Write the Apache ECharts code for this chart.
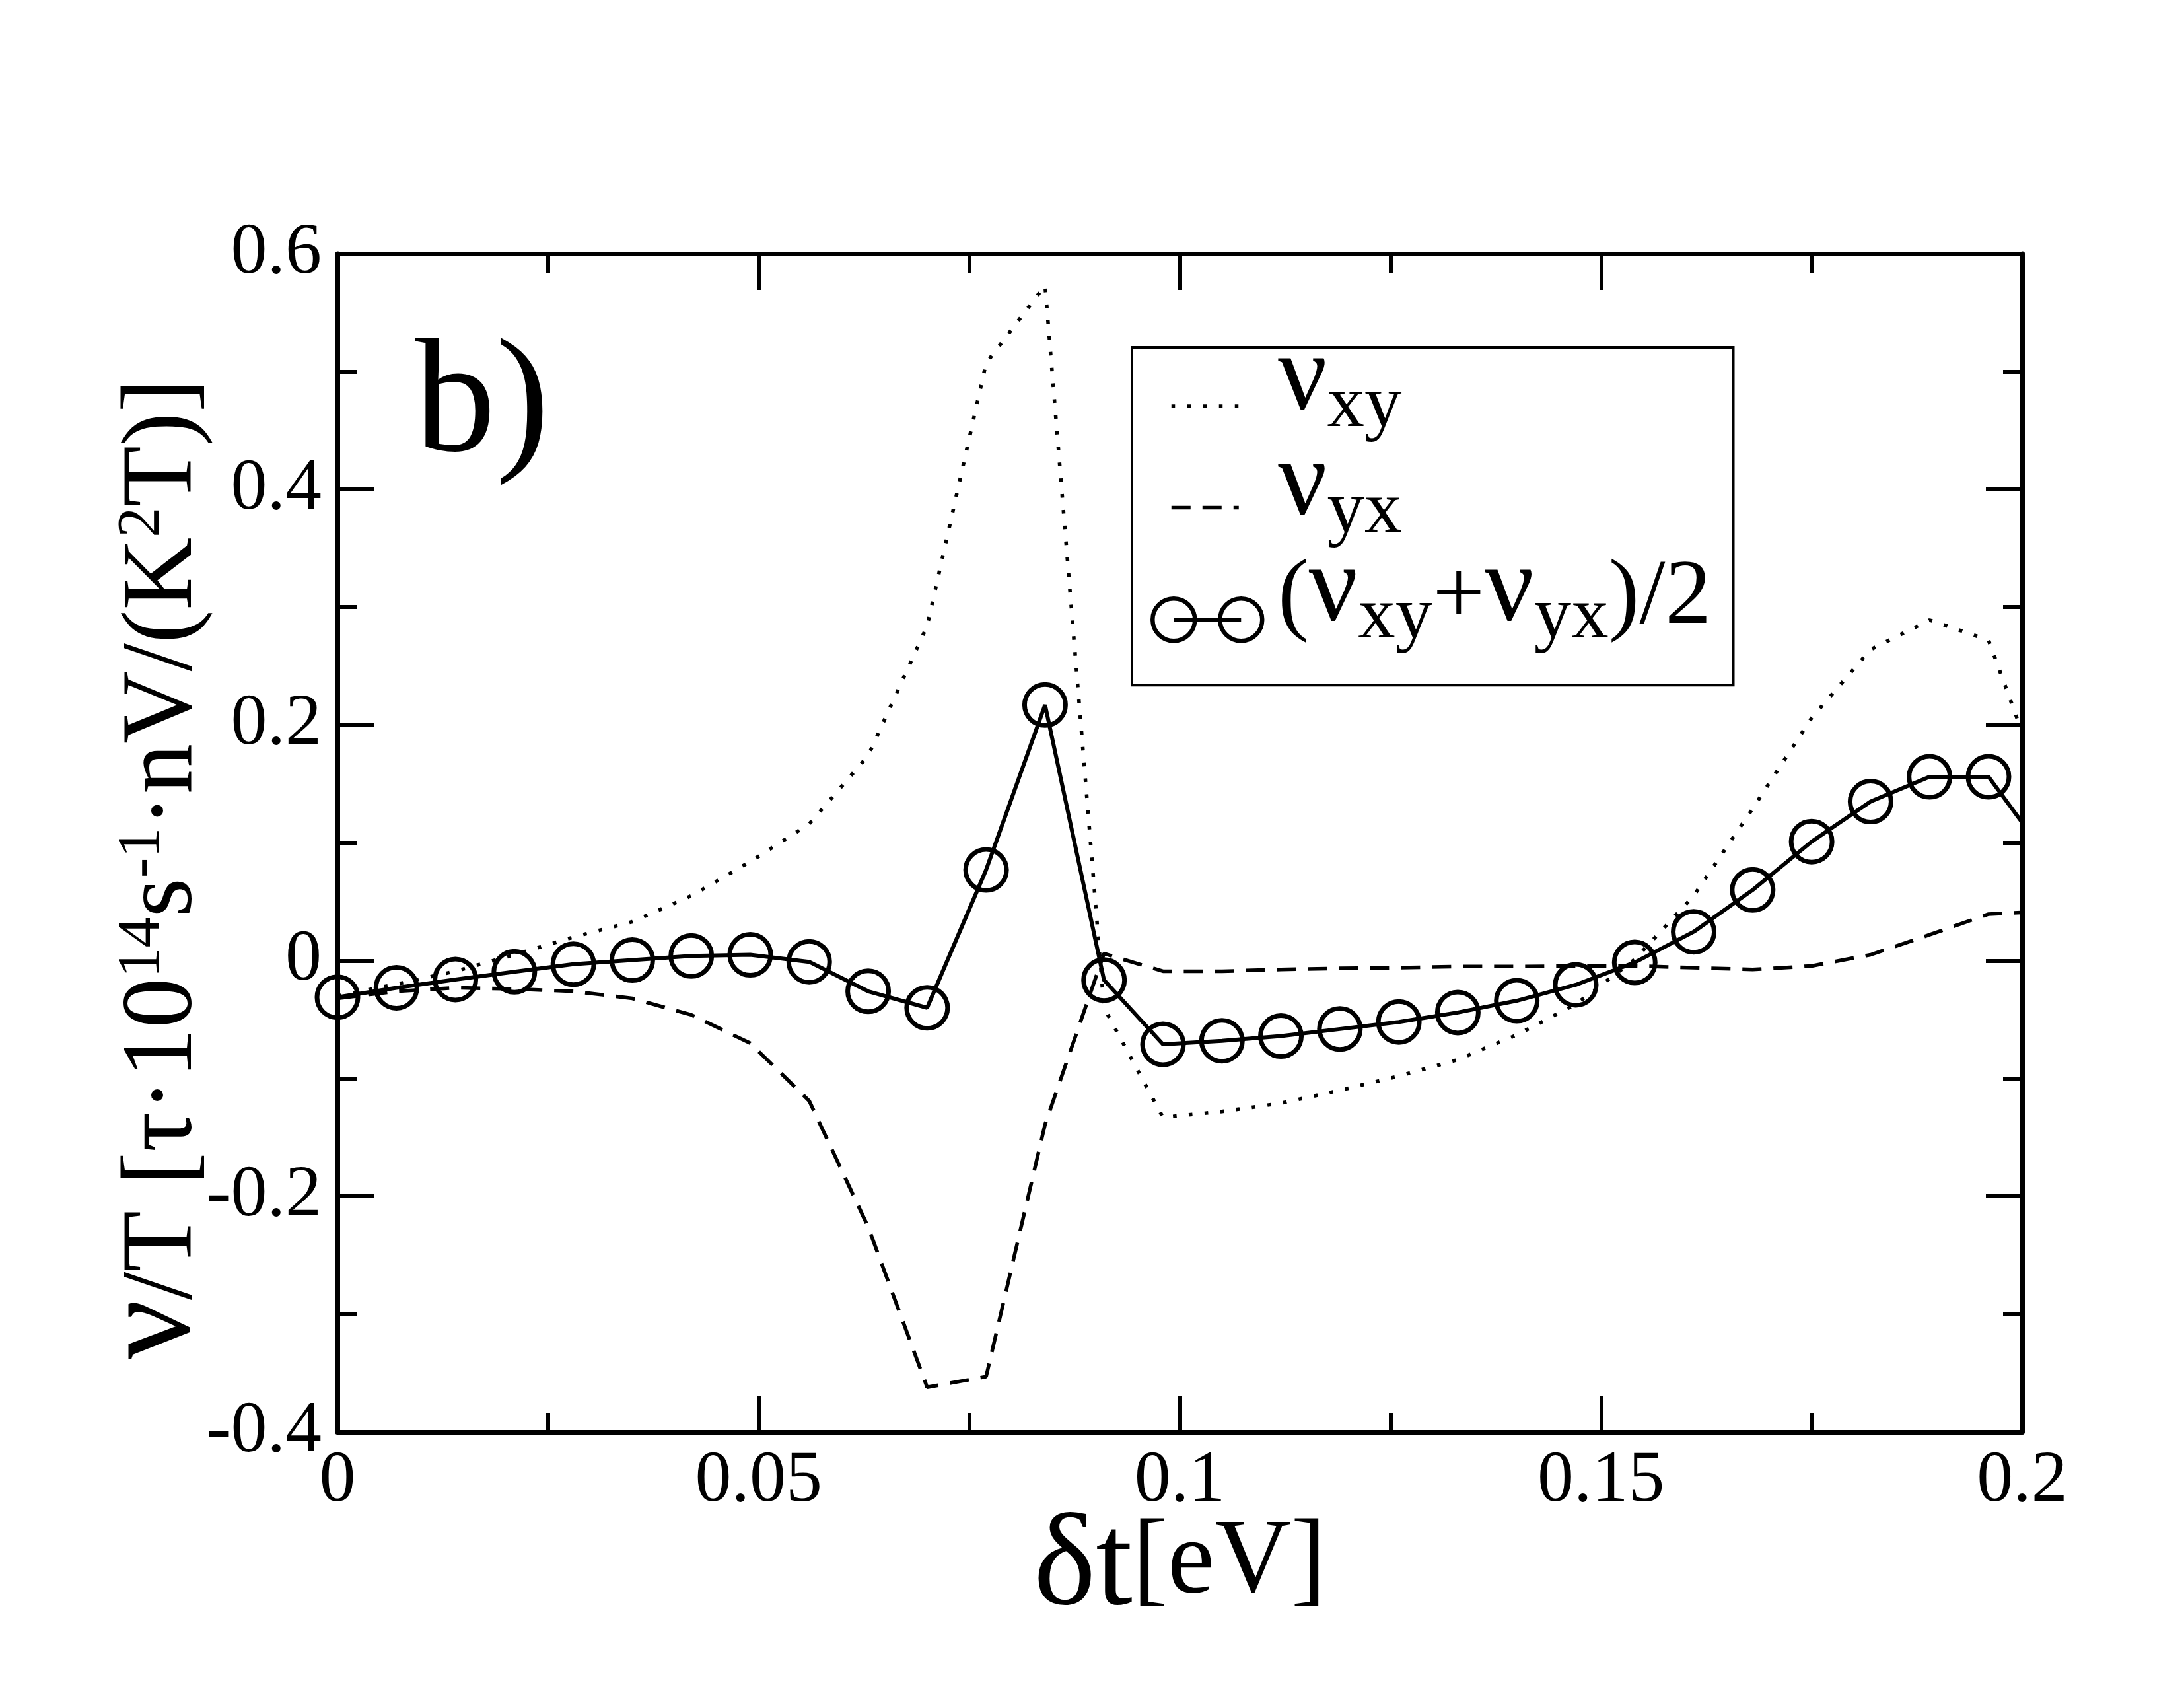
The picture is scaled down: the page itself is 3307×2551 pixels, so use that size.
<!DOCTYPE html>
<html>
<head>
<meta charset="utf-8">
<script src="https://cdn.jsdelivr.net/npm/echarts@6/dist/echarts.min.js"></script>
<style>
html,body{margin:0;padding:0;background:#fff;}
#c{width:3307px;height:2551px;}
</style>
</head>
<body>
<div id="c"></div>
<script>
// ---- data ----
const deltaT = [0.000, 0.007, 0.014, 0.021, 0.028, 0.035, 0.042, 0.049, 0.056, 0.063,
                0.070, 0.077, 0.084, 0.091, 0.098, 0.105, 0.112, 0.119, 0.126, 0.133,
                0.140, 0.147, 0.154, 0.161, 0.168, 0.175, 0.182, 0.189, 0.196, 0.203];
const nuXY  = [-0.030, -0.020, -0.009, 0.005, 0.020, 0.033, 0.055, 0.084, 0.116, 0.174,
                0.284, 0.507, 0.573, -0.040, -0.133, -0.128, -0.121, -0.110, -0.098, -0.084,
               -0.063, -0.037, 0.001, 0.055, 0.129, 0.206, 0.264, 0.289, 0.272, 0.135];
const nuYX  = [-0.032, -0.026, -0.023, -0.024, -0.026, -0.032, -0.046, -0.070, -0.119, -0.226,
               -0.362, -0.353, -0.139, 0.006, -0.009, -0.009, -0.0075, -0.0065, -0.006, -0.005,
               -0.005, -0.0045, -0.0045, -0.006, -0.0075, -0.0045, 0.005, 0.022, 0.0395, 0.042];
const nuAvg = [-0.031, -0.023, -0.016, -0.0095, -0.003, 0.0005, 0.004, 0.005, -0.001, -0.026,
               -0.040, 0.077, 0.217, -0.0165, -0.071, -0.068, -0.064, -0.058, -0.052, -0.044,
               -0.034, -0.0205, -0.0015, 0.0245, 0.060, 0.101, 0.135, 0.156, 0.156, 0.088];
const xTickLabels = ['0', '0.05', '0.1', '0.15', '0.2'];
const yTickLabels = ['-0.4', '-0.2', '0', '0.2', '0.4', '0.6'];
const seriesNames = ['\u03bdxy', '\u03bdyx', '(\u03bdxy+\u03bdyx)/2'];
const legendLabels = ['{nu|\u03bd}{sub|xy}', '{nu|\u03bd}{sub|yx}',
                      '{p|(}{nu|\u03bd}{sub|xy}{p|+}{nu|\u03bd}{sub|yx}{p|)/2}'];

// ---- chart ----
const FONT = '"Liberation Serif", "DejaVu Serif", "Times New Roman", serif';
const chart = echarts.init(document.getElementById('c'), null, {renderer: 'canvas', width: 3307, height: 2551});

function pairs(ys) { return deltaT.map((x, i) => [x, ys[i]]); }

const axisLine = {show: true, onZero: false, lineStyle: {color: '#000', width: 7}};
const axisTick = {show: true, inside: true, length: 55, lineStyle: {color: '#000', width: 6}};
const minorTick = {show: true, splitNumber: 2, length: 29, lineStyle: {color: '#000', width: 6}};

const DOTTED = [5.5, 18.5];
const DASHED = [29, 18];
const CIRCLE_ICON = 'path://M0,32A32,32,0,1,1,64,32A32,32,0,1,1,0,32ZM102,32A32,32,0,1,1,166,32A32,32,0,1,1,102,32ZM32,32L134,32';

// legend label text styles (zrender rich)
const legendRich = {
  nu:  {fontSize: 165, height: 77, lineHeight: 77, verticalAlign: 'top', fontFamily: FONT, fill: '#000'},
  sub: {fontSize: 113, height: 158, lineHeight: 158, verticalAlign: 'top', fontFamily: FONT, fill: '#000'},
  p:   {fontSize: 140, height: 100, lineHeight: 100, verticalAlign: 'top', fontFamily: FONT, fill: '#000'}
};
const legendRowCenters = [615, 775, 935];

const option = {
  animation: false,
  backgroundColor: '#fff',
  textStyle: {fontFamily: FONT},
  grid: {left: 511, right: 245, top: 384, bottom: 383, containLabel: false, outerBoundsMode: 'none'},
  xAxis: [{
    type: 'value', position: 'bottom', min: 0, max: 0.2, interval: 0.05,
    axisLine: axisLine, axisTick: axisTick, minorTick: minorTick, splitLine: {show: false},
    axisLabel: {fontSize: 110, fontFamily: FONT, color: '#000', margin: 20,
                formatter: (v, i) => xTickLabels[i]},
    name: '{d|\u03b4t}{e|[eV]}', nameLocation: 'middle', nameGap: 97, nameMoveOverlap: false,
    nameTextStyle: {fontFamily: FONT, color: '#000', rich: {
      d: {fontSize: 200, height: 220, lineHeight: 220, verticalAlign: 'top', fontFamily: FONT, color: '#000'},
      e: {fontSize: 160, height: 205, lineHeight: 205, verticalAlign: 'top', fontFamily: FONT, color: '#000'}
    }}
  }, {
    type: 'value', position: 'top', min: 0, max: 0.2, interval: 0.05,
    axisLine: axisLine, axisTick: axisTick, minorTick: minorTick, splitLine: {show: false},
    axisLabel: {show: false}
  }],
  yAxis: [{
    type: 'value', position: 'left', min: -0.4, max: 0.6, interval: 0.2,
    axisLine: axisLine, axisTick: axisTick, minorTick: minorTick, splitLine: {show: false},
    axisLabel: {fontSize: 110, fontFamily: FONT, color: '#000', margin: 24,
                formatter: (v, i) => yTickLabels[i]},
    name: '{nu|\u03bd}{m|/T [\u03c4\u00b710}{sup|14}{m|s}{sup|-1}{m|\u00b7nV/(K}{sup|2}{m|T)]}',
    nameLocation: 'middle', nameGap: 170, nameRotate: 90, nameMoveOverlap: false,
    nameTextStyle: {fontFamily: FONT, color: '#000', padding: [0, 80, 0, 0], rich: {
      m:   {fontSize: 152, height: 183, lineHeight: 183, verticalAlign: 'top', fontFamily: FONT, color: '#000'},
      nu:  {fontSize: 200, height: 151, lineHeight: 151, verticalAlign: 'top', fontFamily: FONT, color: '#000'},
      sup: {fontSize: 92, height: 116, lineHeight: 116, verticalAlign: 'top', fontFamily: FONT, color: '#000'}
    }}
  }, {
    type: 'value', position: 'right', min: -0.4, max: 0.6, interval: 0.2,
    axisLine: axisLine, axisTick: axisTick, minorTick: minorTick, splitLine: {show: false},
    axisLabel: {show: false}
  }],
  legend: [{
    // boxed legend: the two plain curves (the box is sized to hold all three entries)
    orient: 'vertical', left: 1714, top: 526,
    itemWidth: 102, itemHeight: 64, itemGap: 96,
    padding: [57, 746, 243, 57],
    borderColor: '#000', borderWidth: 4, backgroundColor: '#fff',
    selectedMode: false, z: 4,
    data: [
      {name: seriesNames[0], itemStyle: {color: 'transparent', borderWidth: 0, opacity: 0},
       lineStyle: {color: '#000', width: 5.5, type: DOTTED, cap: 'butt'}},
      {name: seriesNames[1], itemStyle: {color: 'transparent', borderWidth: 0, opacity: 0},
       lineStyle: {color: '#000', width: 5.5, type: DASHED, cap: 'butt'}}
    ],
    formatter: () => '',
    textStyle: {fontFamily: FONT, color: '#000', fontSize: 10}
  }, {
    // the circle-line entry, placed inside the same box
    orient: 'vertical', left: 1742, top: 903,
    itemWidth: 166, itemHeight: 64, padding: 0,
    selectedMode: false, z: 6,
    data: [
      {name: seriesNames[2], icon: CIRCLE_ICON,
       itemStyle: {color: 'none', borderColor: '#000', borderWidth: 6.5}}
    ],
    formatter: () => '',
    textStyle: {fontFamily: FONT, color: '#000', fontSize: 10}
  }],
  graphic: [{
    type: 'text', left: 628, top: 495,
    style: {text: 'b)', font: '245px "Liberation Serif", "DejaVu Serif", serif', fill: '#000'}
  }].concat(legendLabels.map((t, i) => ({
    type: 'text', x: 1935, y: legendRowCenters[i] - 79, z: 100,
    style: {text: t, rich: legendRich, align: 'left', verticalAlign: 'top', fontFamily: FONT, fill: '#000'}
  }))),
  series: [{
    name: seriesNames[0], type: 'line', data: pairs(nuXY), symbol: 'none', clip: true, z: 2,
    itemStyle: {color: 'transparent', borderWidth: 0},
    lineStyle: {color: '#000', width: 5.5, type: DOTTED, cap: 'butt'}
  }, {
    name: seriesNames[1], type: 'line', data: pairs(nuYX), symbol: 'none', clip: true, z: 2,
    itemStyle: {color: 'transparent', borderWidth: 0},
    lineStyle: {color: '#000', width: 5.5, type: DASHED, cap: 'butt'}
  }, {
    name: seriesNames[2], type: 'line', data: pairs(nuAvg), symbol: 'circle', symbolSize: 62,
    showAllSymbol: true, clip: true, z: 3,
    itemStyle: {color: 'transparent', borderColor: '#000', borderWidth: 7},
    lineStyle: {color: '#000', width: 6}
  }]
};
chart.setOption(option);
</script>
</body>
</html>
